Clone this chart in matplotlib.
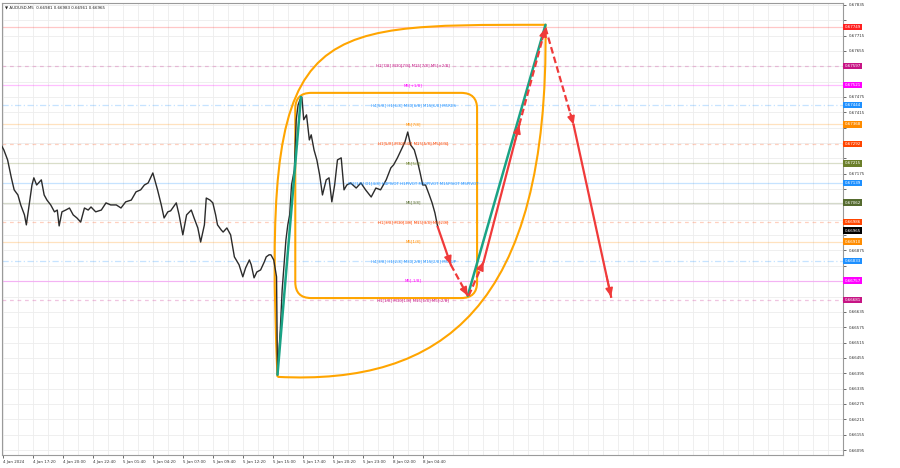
import matplotlib
matplotlib.use("Agg")
import matplotlib.pyplot as plt
import numpy as np
from matplotlib.patches import FancyBboxPatch, PathPatch
from matplotlib.path import Path

# --- data (x = M5 bar index, y = price) ---
title_text = "\u25BC AUDUSD,M5  0.66981 0.66983 0.66961 0.66965"
last_price = 0.66965

time_labels = ["4 Jan 2024", "4 Jan 17:20", "4 Jan 20:00", "4 Jan 22:40", "5 Jan 01:40",
               "5 Jan 04:20", "5 Jan 07:00", "5 Jan 09:40", "5 Jan 12:20", "5 Jan 15:00",
               "5 Jan 17:40", "5 Jan 20:20", "5 Jan 23:00", "8 Jan 02:00", "8 Jan 04:40"]
time_label_bars = [2, 34, 66, 98, 130, 162, 194, 226, 258, 290, 322, 354, 386, 418, 450]

price_ticks = [0.67835, 0.67775, 0.67715, 0.67655, 0.67595, 0.67535, 0.67475, 0.67415,
               0.67355, 0.67295, 0.67235, 0.67175, 0.67115, 0.67055, 0.66995, 0.66935,
               0.66875, 0.66815, 0.66755, 0.66695, 0.66635, 0.66575, 0.66515, 0.66455,
               0.66395, 0.66335, 0.66275, 0.66215, 0.66155, 0.66095]

bars = [0, 3, 7, 11, 14, 18, 21, 25, 27, 30, 33, 35, 38, 43, 46, 49, 53, 57, 60, 62,
        65, 69, 73, 77, 81, 85, 89, 93, 96, 101, 107, 112, 117, 123, 128, 133, 139, 144,
        149, 153, 157, 162, 167, 171, 174, 178, 181, 187, 190, 194, 198, 203, 206, 210,
        213, 217, 219, 223, 226, 229, 231, 235, 237, 241, 245, 249, 252, 254, 258, 261,
        265, 267, 270, 273, 277, 281, 283, 286, 288, 291, 294, 295, 298, 300, 302, 304,
        306, 308, 310, 313, 315, 317, 319, 321, 323, 326, 329, 331, 334, 337, 340, 343,
        347, 350, 353, 356, 359, 363, 366, 369, 373, 379, 384, 389, 395, 400, 405, 411,
        416, 419, 423, 427, 431, 434, 437, 441, 444, 447, 450, 453, 457, 460, 463, 466]
closes = [0.67288, 0.67268, 0.67229, 0.67159, 0.67112, 0.67092, 0.67053, 0.67014, 0.66975,
          0.67053, 0.67131, 0.67159, 0.67131, 0.67151, 0.67092, 0.67072, 0.67053, 0.67026,
          0.67033, 0.66971, 0.67026, 0.67033, 0.67041, 0.67014, 0.67002, 0.66986, 0.67041,
          0.67033, 0.67045, 0.67026, 0.67033, 0.67061, 0.67053, 0.67053, 0.67041, 0.67065,
          0.67072, 0.67104, 0.67112, 0.67131, 0.67139, 0.67178, 0.67112, 0.67053, 0.67002,
          0.67026, 0.67030, 0.67061, 0.67014, 0.66936, 0.67014, 0.67033, 0.67002, 0.66963,
          0.66908, 0.66975, 0.67080, 0.67072, 0.67061, 0.67014, 0.66975, 0.66955, 0.66947,
          0.66963, 0.66936, 0.66850, 0.66831, 0.66819, 0.66772, 0.66807, 0.66838, 0.66819,
          0.66768, 0.66791, 0.66799, 0.66831, 0.66850, 0.66858, 0.66858, 0.66838, 0.66772,
          0.66389, 0.66565, 0.66721, 0.66819, 0.66916, 0.66975, 0.67014, 0.67131, 0.67190,
          0.67386, 0.67444, 0.67464, 0.67475, 0.67386, 0.67405, 0.67307, 0.67327, 0.67268,
          0.67229, 0.67170, 0.67092, 0.67151, 0.67159, 0.67065, 0.67131, 0.67229, 0.67237,
          0.67112, 0.67131, 0.67139, 0.67119, 0.67139, 0.67112, 0.67084, 0.67119, 0.67112,
          0.67151, 0.67198, 0.67210, 0.67237, 0.67268, 0.67299, 0.67338, 0.67288, 0.67268,
          0.67229, 0.67182, 0.67131, 0.67131, 0.67092, 0.67061, 0.67022, 0.66967]

# murrey math levels
level_prices = [0.67749, 0.67597, 0.67521, 0.67444, 0.67368, 0.67292, 0.67215,
                0.67139, 0.67062, 0.66986, 0.66910, 0.66833, 0.66757, 0.66681]
level_names = ["", "H1[7/8] M30[7/8] M15[7/8] M5[+2/8]", "M5[+1/8]",
               "H4[5/8] H1[6/8] M30[6/8] M15[6/8] M5RES", "M5[7/8]",
               "H1[5/8] M30[5/8] M15[5/8] M5[6/8]", "M5[5/8]",
               "W1[1/8] D1[4/8] H4PIVOT H1PIVOT M30PIVOT M15PIVOT M5PIVOT", "M5[3/8]",
               "H1[3/8] M30[3/8] M15[3/8] M5[2/8]", "M5[1/8]",
               "H4[3/8] H1[2/8] M30[2/8] M15[2/8] M5SUP", "M5[-1/8]",
               "H1[1/8] M30[1/8] M15[1/8] M5[-2/8]"]
level_colors = ["#ff2020", "#c71585", "#ff00ff", "#1e90ff", "#ff8c00", "#ff4500", "#6b7f2a",
                "#1e90ff", "#556b2f", "#ff4500", "#ff8c00", "#1e90ff", "#ff00ff", "#c71585"]
level_styles = ["-", (0, (3, 3)), "-", (0, (5, 2, 1, 2)), "-", (0, (3, 3)), "-",
                "-", "-", (0, (3, 3)), "-", (0, (5, 2, 1, 2)), "-", (0, (3, 3))]

# swing lines (teal)
swing_bars = [(295, 320), (498, 581)]
swing_prices = [(0.66389, 0.67475), (0.66698, 0.67757)]

# projected path (red arrows)
arrow_from_bar = [466, 480, 499, 515, 553, 581, 611]
arrow_from_price = [0.66967, 0.66819, 0.66698, 0.66831, 0.67366, 0.67745, 0.67366]
arrow_to_bar = [480, 498, 515, 553, 581, 611, 651]
arrow_to_price = [0.66819, 0.66698, 0.66831, 0.67366, 0.67745, 0.67366, 0.66694]
arrow_dashed = [False, True, True, False, True, True, False]

# orange range box and outer envelope
box_bars = (314, 508)
box_prices = (0.66689, 0.67491)
env_low = (295, 0.66381)
env_high = (581, 0.67757)
env_ctrl_upper = [(279, 0.67776), (320, 0.67757)]
env_ctrl_lower = [(585, 0.66643), (469, 0.66349)]

FS = 2.9
fig = plt.figure(figsize=(9, 4.68), dpi=100)
ax = fig.add_axes([0.0022, 0.028, 0.935, 0.966])
ax.set_xlim(1, 899)
ax.set_ylim(0.66076, 0.67843)

# grid
for b in np.arange(2, 899, 16):
    ax.axvline(b, color="#ededed", lw=0.6, zorder=0)
for p in price_ticks:
    ax.axhline(p, color="#ededed", lw=0.6, zorder=0)

# levels
for p, name, c, ls in zip(level_prices, level_names, level_colors, level_styles):
    ax.axhline(p, color=c, lw=0.9, ls=ls, alpha=0.25, zorder=1)
    if name:
        ax.text(440, p, name, color=c, fontsize=FS, ha="center", va="center", zorder=5)

# price
ax.plot(bars, closes, color="#2b2b2b", lw=1.0, zorder=4)

# orange shapes
box = FancyBboxPatch((box_bars[0], box_prices[0]), box_bars[1] - box_bars[0],
                     box_prices[1] - box_prices[0],
                     boxstyle="round,pad=0,rounding_size=17", mutation_aspect=3.67e-5,
                     fill=False, ec="#ffa500", lw=1.5, zorder=3)
ax.add_patch(box)
verts = [env_low, env_ctrl_upper[0], env_ctrl_upper[1], env_high,
         env_ctrl_lower[0], env_ctrl_lower[1], env_low]
codes = [Path.MOVETO, Path.CURVE4, Path.CURVE4, Path.CURVE4,
         Path.CURVE4, Path.CURVE4, Path.CURVE4]
ax.add_patch(PathPatch(Path(verts, codes), fill=False, ec="#ffa500", lw=1.5, zorder=3))

# swings
for bb, pp in zip(swing_bars, swing_prices):
    ax.plot(bb, pp, color="#1aa385", lw=1.8, zorder=6, solid_capstyle="round")

# arrows
red = "#f03a3a"
for x0, y0, x1, y1, d in zip(arrow_from_bar, arrow_from_price, arrow_to_bar,
                             arrow_to_price, arrow_dashed):
    ax.plot([x0, x1], [y0, y1], color=red, lw=1.6, ls=(0, (3, 1.5)) if d else "-", zorder=7)
    ax.annotate("", xy=(x1, y1), xytext=(x1 - 0.12 * (x1 - x0), y1 - 0.12 * (y1 - y0)),
                arrowprops=dict(arrowstyle="-|>,head_length=0.5,head_width=0.22",
                                color=red, lw=1.2, shrinkA=0, shrinkB=0), zorder=7)

# axes styling; tick labels hidden under the coloured price boxes are left out
ax.yaxis.tick_right()
ax.set_yticks(price_ticks)
covered = list(level_prices) + [last_price]
ax.set_yticklabels(["" if min(abs(p - q) for q in covered) < 0.00028 else f"{p:.5f}"
                    for p in price_ticks])
ax.set_xticks(time_label_bars)
ax.set_xticklabels(time_labels, ha="left")
ax.tick_params(axis="both", labelsize=FS, length=2, width=0.5, colors="#333333", pad=1.5)
for s in ax.spines.values():
    s.set_color("#9a9a9a")
    s.set_linewidth(0.8)

# price boxes on the right axis
yt = ax.get_yaxis_transform()
for p, c in zip(level_prices, level_colors):
    ax.text(1.001, p, f"{p:.5f}", transform=yt, color="white", fontsize=FS, va="center",
            ha="left", clip_on=False, zorder=10,
            bbox=dict(boxstyle="square,pad=0.3", fc=c, ec="none"))
ax.text(1.001, last_price - 0.00012, f"{last_price:.5f}", transform=yt, color="white",
        fontsize=FS, va="center", ha="left", clip_on=False, zorder=11,
        bbox=dict(boxstyle="square,pad=0.3", fc="black", ec="none"))

ax.text(0.003, 0.995, title_text, transform=ax.transAxes, fontsize=FS, color="#222222",
        ha="left", va="top")

fig.savefig("out.png", dpi=100)
